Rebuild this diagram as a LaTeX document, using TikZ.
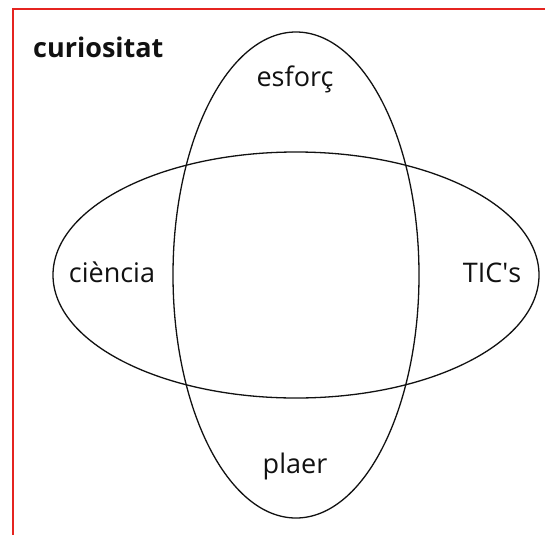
\documentclass[tikz,border=0pt]{standalone}
\usepackage{fontspec}
\setmainfont{Open Sans}
\usepackage{tikz}
\usetikzlibrary{positioning}
\definecolor{frame}{HTML}{E52420}
\definecolor{ink}{HTML}{111111}
\tikzset{
  ring/.style={draw=ink,line width=1.3pt},
  lab/.style={inner sep=0pt,anchor=base,text=ink,font=\fontsize{27}{31}\selectfont},
  head/.style={lab,anchor=base west,font=\fontsize{27}{31}\selectfont\bfseries},
  edge/.style={draw=frame,line width=2.4pt},
}
\begin{document}
\begin{tikzpicture}[x=1pt,y=-1pt]
\useasboundingbox (0,0) rectangle (545,535);
% frame on top and left
\draw[edge] (545,9) -- (13,9) -- (13,535);
% the two ellipses
\draw[ring] (296,275) ellipse [x radius=123,y radius=243];
\draw[ring] (296,275) ellipse [x radius=243,y radius=123];
% labels
\node[head] (cur) at (33,57) {curiositat};
\node[lab] (esf) at (295,86) {esforç};
\node[lab] (cie) at (112,282) {ciència};
\node[lab] (tic) at (492,282) {TIC\textquotesingle s};
\node[lab] (pla) at (295,473) {plaer};
\end{tikzpicture}
\end{document}
